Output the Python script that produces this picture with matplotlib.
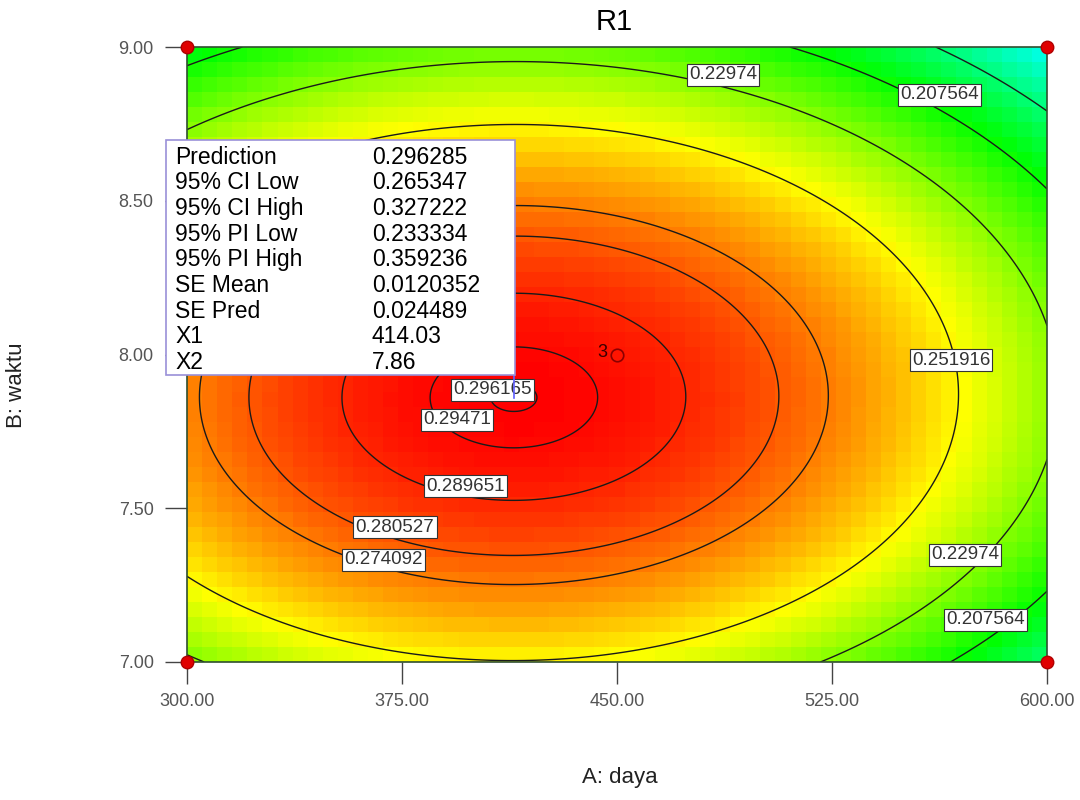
import numpy as np
import matplotlib
matplotlib.use('Agg')
import matplotlib.pyplot as plt
from matplotlib.colors import LinearSegmentedColormap

plt.rcParams['font.family'] = ['Liberation Sans', 'DejaVu Sans']

############### data
# contour levels drawn on the plot
levels = [0.185388, 0.207564, 0.22974, 0.251916, 0.274092,
          0.280527, 0.289651, 0.29471, 0.296165]

# points (A: daya, B: waktu, R1 value)
line_daya = [385.5, 442.3, 419.7, 413.7,
             354.4, 355.8, 367.3, 473.0, 425.6, 399.0,
             322.7, 324.4, 335.9, 355.8, 505.8, 409.0, 372.6,
             305.6, 305.2, 315.0, 332.4, 352.3, 523.3, 401.0,
             300.0, 414.0, 444.0, 513.8, 548.7, 559.2, 567.2, 566.1, 541.7, 493.0, 418.6, 371.8,
             300.0, 418.6, 486.0, 522.5, 541.7, 576.6, 600.0, 600.0, 576.6, 569.6, 541.7, 517.0,
             300.0, 328.0, 514.5, 541.7, 561.6, 581.0, 600.0, 600.0, 577.7, 562.6,
             564.4, 600.0]
line_waktu = [7.93, 7.885, 8.03, 7.706,
              7.927, 7.82, 7.657, 7.907, 7.537, 7.572,
              7.927, 7.764, 7.592, 7.462, 7.90, 7.348, 7.439,
              7.927, 7.764, 7.55, 7.429, 7.354, 7.895, 7.25,
              7.244, 6.99, 7.02, 7.11, 7.32, 7.59, 7.98, 8.024, 8.382, 8.63, 8.74, 8.707,
              8.73, 8.94, 8.90, 8.795, 8.688, 8.372, 8.089, 7.732, 7.439, 7.341, 7.114, 7.0,
              8.893, 9.0, 9.0, 8.90, 8.834, 8.63, 8.558, 7.26, 7.13, 7.0,
              9.0, 8.80]
line_r1 = [0.29471] * 4 + [0.289651] * 6 + [0.280527] * 7 + [0.274092] * 7 \
    + [0.251916] * 12 + [0.22974] * 12 + [0.207564] * 10 + [0.185388] * 2

# flagged prediction (taken as the top of the surface)
pred_daya = 414.03
pred_waktu = 7.86
pred_r1 = 0.296285
pred_names = ['Prediction', '95% CI Low', '95% CI High', '95% PI Low', '95% PI High',
              'SE Mean', 'SE Pred', 'X1', 'X2']
pred_values = ['0.296285', '0.265347', '0.327222', '0.233334', '0.359236',
               '0.0120352', '0.024489', '414.03', '7.86']

# contour label positions
label_daya = [487.0, 562.6, 566.5, 571.4, 578.4, 406.4, 394.2, 397.3, 372.6, 368.4]
label_waktu = [8.909, 8.844, 7.982, 7.348, 7.137, 7.885, 7.787, 7.572, 7.439, 7.332]
label_text = ['0.22974', '0.207564', '0.251916', '0.22974', '0.207564',
              '0.296165', '0.29471', '0.289651', '0.280527', '0.274092']

# design points
design_daya = [300, 300, 600, 600]
design_waktu = [7, 9, 7, 9]
center_daya, center_waktu, center_reps = 450, 8.0, '3'


############### surface through the traced points, peak at the flag
def terms(x, y):
    dx = (np.asarray(x) - pred_daya) / 150.0
    dy = np.asarray(y) - pred_waktu
    return np.stack([dx * dx, dy * dy, dx * dy, dy ** 3, dx * dx * dy], axis=-1)


drop = pred_r1 - np.array(line_r1)
w = 1.0 / drop
coef, _, _, _ = np.linalg.lstsq(terms(line_daya, line_waktu) * w[:, None], drop * w, rcond=None)


def surface(x, y):
    return pred_r1 - terms(x, y) @ coef


cmap = LinearSegmentedColormap.from_list(
    'de', ['#0000ff', '#00ffff', '#00ff00', '#ffff00', '#ff0000'])

fig = plt.figure(figsize=(10.8, 8), dpi=100)
ax = fig.add_axes([187 / 1080, 138 / 800, 860 / 1080, 615 / 800])

# coarse cells like the original render
ex = np.linspace(300, 600, 58)
ey = np.linspace(7, 9, 42)
CX, CY = np.meshgrid((ex[:-1] + ex[1:]) / 2, (ey[:-1] + ey[1:]) / 2)
ax.pcolormesh(ex, ey, surface(CX, CY), cmap=cmap, vmin=0.116, vmax=0.2963, shading='flat')

FX, FY = np.meshgrid(np.linspace(300, 600, 300), np.linspace(7, 9, 300))
ax.contour(FX, FY, surface(FX, FY), levels=levels, colors='#1a1a1a', linewidths=1.0)

for lx, ly, lt in zip(label_daya, label_waktu, label_text):
    ax.text(lx, ly, lt, ha='center', va='center', fontsize=13.5, color='#333333',
            bbox=dict(boxstyle='square,pad=0.12', fc='white', ec='#333333', lw=0.8), zorder=5)

# design points
ax.plot(design_daya, design_waktu, 'o', ms=9, mfc='#e00000', mec='#b00000',
        clip_on=False, zorder=6)
ax.plot([center_daya], [center_waktu], 'o', ms=9, mfc='none', mec='#8b0000', mew=1.2, zorder=6)
ax.text(center_daya - 3.5, center_waktu + 0.005, center_reps, ha='right', va='center',
        fontsize=13, color='#3a0000', zorder=6)

# prediction flag + box
ax.plot([pred_daya, pred_daya], [pred_waktu, 7.933], color='#6060ff', lw=1.2, zorder=7)
box = plt.Rectangle((166 / 1080, (800 - 375) / 800), (515 - 166) / 1080, (375 - 140) / 800,
                    transform=fig.transFigure, fc='white', ec='#9a90d8', lw=1.2, zorder=8)
fig.patches.append(box)
for i, (nm, val) in enumerate(zip(pred_names, pred_values)):
    ty = (800 - (157 + i * 25.7)) / 800
    fig.text(175 / 1080, ty, nm, fontsize=16.5, va='center', ha='left', zorder=9)
    fig.text(372 / 1080, ty, val, fontsize=16.5, va='center', ha='left', zorder=9)

ax.set_xlim(300, 600)
ax.set_ylim(7, 9)
ax.set_xticks([300, 375, 450, 525, 600])
ax.set_yticks([7.0, 7.5, 8.0, 8.5, 9.0])
ax.xaxis.set_major_formatter(plt.FormatStrFormatter('%.2f'))
ax.yaxis.set_major_formatter(plt.FormatStrFormatter('%.2f'))
ax.tick_params(direction='out', length=16, width=1, color='#444444',
               labelsize=13, labelcolor='#555555', pad=8)
ax.tick_params(axis='x', pad=6)
for sp in ax.spines.values():
    sp.set_color('#2f4f2f')
    sp.set_linewidth(1.2)

fig.text(614 / 1080, 1 - 22 / 800, 'R1', fontsize=21, ha='center', va='center')
fig.text(620 / 1080, 1 - 778 / 800, 'A: daya', fontsize=16, ha='center', va='center', color='#222222')
fig.text(17 / 1080, 1 - 385 / 800, 'B: waktu', fontsize=16, ha='center', va='center',
         rotation=90, color='#222222')

fig.savefig('out.png', dpi=100)
